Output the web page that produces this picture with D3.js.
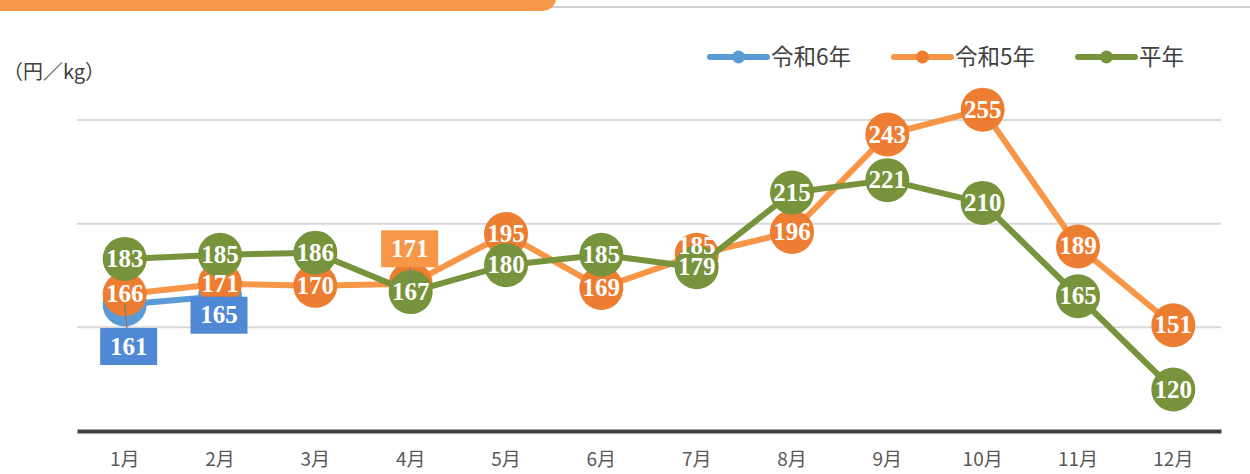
<!DOCTYPE html>
<html>
<head>
<meta charset="utf-8">
<script src="https://cdn.jsdelivr.net/npm/d3@7"></script>
<style>
  body { margin: 0; background: #fff; }
  #chart { width: 1250px; height: 474px; }
</style>
</head>
<body>
<div id="chart"></div>
<script>
// data
const months = ["1月","2月","3月","4月","5月","6月","7月","8月","9月","10月","11月","12月"];
const seriesNames = ["令和6年", "令和5年", "平年"];
const r6Values = [161, 165];
const r5Values = [166, 171, 170, 171, 195, 169, 185, 196, 243, 255, 189, 151];
const avgValues = [183, 185, 186, 167, 180, 185, 179, 215, 221, 210, 165, 120];
const gridTicks = [150, 200, 250];

const width = 1250, height = 474;
const margin = { top: 15, left: 77, right: 29, bottom: 43 };
const sansFont = "'Noto Sans CJK JP', 'Noto Sans', sans-serif";
const labelFont = "'Liberation Serif', 'Times New Roman', serif";

const svg = d3.select("#chart").append("svg")
  .attr("width", width)
  .attr("height", height);

// header decoration
svg.append("line")
  .attr("x1", 540).attr("x2", width)
  .attr("y1", 7).attr("y2", 7)
  .attr("stroke", "#cfcfcf").attr("stroke-width", 2);
svg.append("path")
  .attr("d", "M0,0 H556 Q553,11 542,11 H0 Z")
  .attr("fill", "#f79646");

// scales
const xScale = d3.scaleBand()
  .domain(months)
  .range([margin.left, width - margin.right])
  .padding(0);
const xc = m => xScale(m) + xScale.bandwidth() / 2;

const yScale = d3.scaleLinear()
  .domain([100, 300])
  .range([431, 431 - 200 * 311 / 150]);

// grid
svg.append("g").selectAll("line")
  .data(gridTicks)
  .enter().append("line")
  .attr("x1", margin.left).attr("x2", width - margin.right)
  .attr("y1", d => yScale(d)).attr("y2", d => yScale(d))
  .attr("stroke", "#d9d9d9").attr("stroke-width", 2);

// x axis
const xAxis = svg.append("g")
  .attr("transform", `translate(0,${yScale(100)})`)
  .call(d3.axisBottom(xScale).tickSize(0).tickPadding(22));
xAxis.select(".domain").attr("stroke", "#404040").attr("stroke-width", 4);
xAxis.selectAll("text")
  .attr("font-size", 19)
  .attr("fill", "#595959")
  .attr("font-family", sansFont);

// unit label
svg.append("text")
  .attr("x", 3).attr("y", 79)
  .attr("font-family", sansFont)
  .attr("font-size", 20)
  .attr("fill", "#404040")
  .text("（円／kg）");

// series
const series = [
  { name: seriesNames[0], values: r6Values, line: "#5b9bd5", dot: "#5b9bd5" },
  { name: seriesNames[1], values: r5Values, line: "#f79646", dot: "#ed7d31" },
  { name: seriesNames[2], values: avgValues, line: "#77933c", dot: "#77933c" }
];

const line = d3.line()
  .x((d, i) => xc(months[i]))
  .y(d => yScale(d));

series.forEach(s => {
  svg.append("path")
    .attr("d", line(s.values))
    .attr("fill", "none")
    .attr("stroke", s.line)
    .attr("stroke-width", 6)
    .attr("stroke-linejoin", "round");
  svg.append("g").selectAll("circle")
    .data(s.values)
    .enter().append("circle")
    .attr("cx", (d, i) => xc(months[i]))
    .attr("cy", d => yScale(d))
    .attr("r", 22)
    .attr("fill", s.dot);
});

// labels inside circles (orange & green); 7月 orange label nudged up
[series[1], series[2]].forEach(s => {
  const pts = s.values.map((v, i) => ({ v: v, i: i }))
    .filter(p => !(s === series[1] && p.i === 3));
  svg.append("g").selectAll("text")
    .data(pts)
    .enter().append("text")
    .attr("x", p => xc(months[p.i]))
    .attr("y", p => yScale(p.v) + 8 - (s === series[1] && p.i === 6 ? 9 : 0))
    .attr("text-anchor", "middle")
    .attr("font-family", labelFont)
    .attr("font-weight", "bold")
    .attr("font-size", 25)
    .attr("fill", "#fff")
    .text(p => p.v);
});

// boxed callout labels
const callouts = [
  { v: r6Values[0], i: 0, dx: 4, dy: 42, fill: "#4f88d4" },
  { v: r6Values[1], i: 1, dx: -1, dy: 19, fill: "#4f88d4" },
  { v: r5Values[3], i: 3, dx: -1, dy: -35, fill: "#f79646" }
];
callouts.forEach(c => {
  const px = xc(months[c.i]), py = yScale(c.v);
  const bx = px + c.dx, by = py + c.dy;
  svg.append("line")
    .attr("x1", px).attr("y1", py)
    .attr("x2", bx).attr("y2", by)
    .attr("stroke", "#7f7f7f").attr("stroke-width", 1.5);
  svg.append("rect")
    .attr("x", bx - 28.5).attr("y", by - 18.5)
    .attr("width", 57).attr("height", 37)
    .attr("fill", c.fill);
  svg.append("text")
    .attr("x", bx).attr("y", by + 8)
    .attr("text-anchor", "middle")
    .attr("font-family", labelFont)
    .attr("font-weight", "bold")
    .attr("font-size", 25)
    .attr("fill", "#fff")
    .text(c.v);
});

// legend
const legendX = [710, 894, 1078];
const legend = svg.append("g");
series.forEach((s, k) => {
  const g = legend.append("g").attr("transform", `translate(${legendX[k]},57)`);
  g.append("line")
    .attr("x1", 0).attr("x2", 57)
    .attr("stroke", s.line).attr("stroke-width", 6)
    .attr("stroke-linecap", "round");
  g.append("circle")
    .attr("cx", 28.5).attr("r", 6.5)
    .attr("fill", s.dot);
  g.append("text")
    .attr("x", 61).attr("y", 8)
    .attr("font-family", sansFont)
    .attr("font-size", 22.5)
    .attr("fill", "#404040")
    .text(s.name);
});
</script>
</body>
</html>
